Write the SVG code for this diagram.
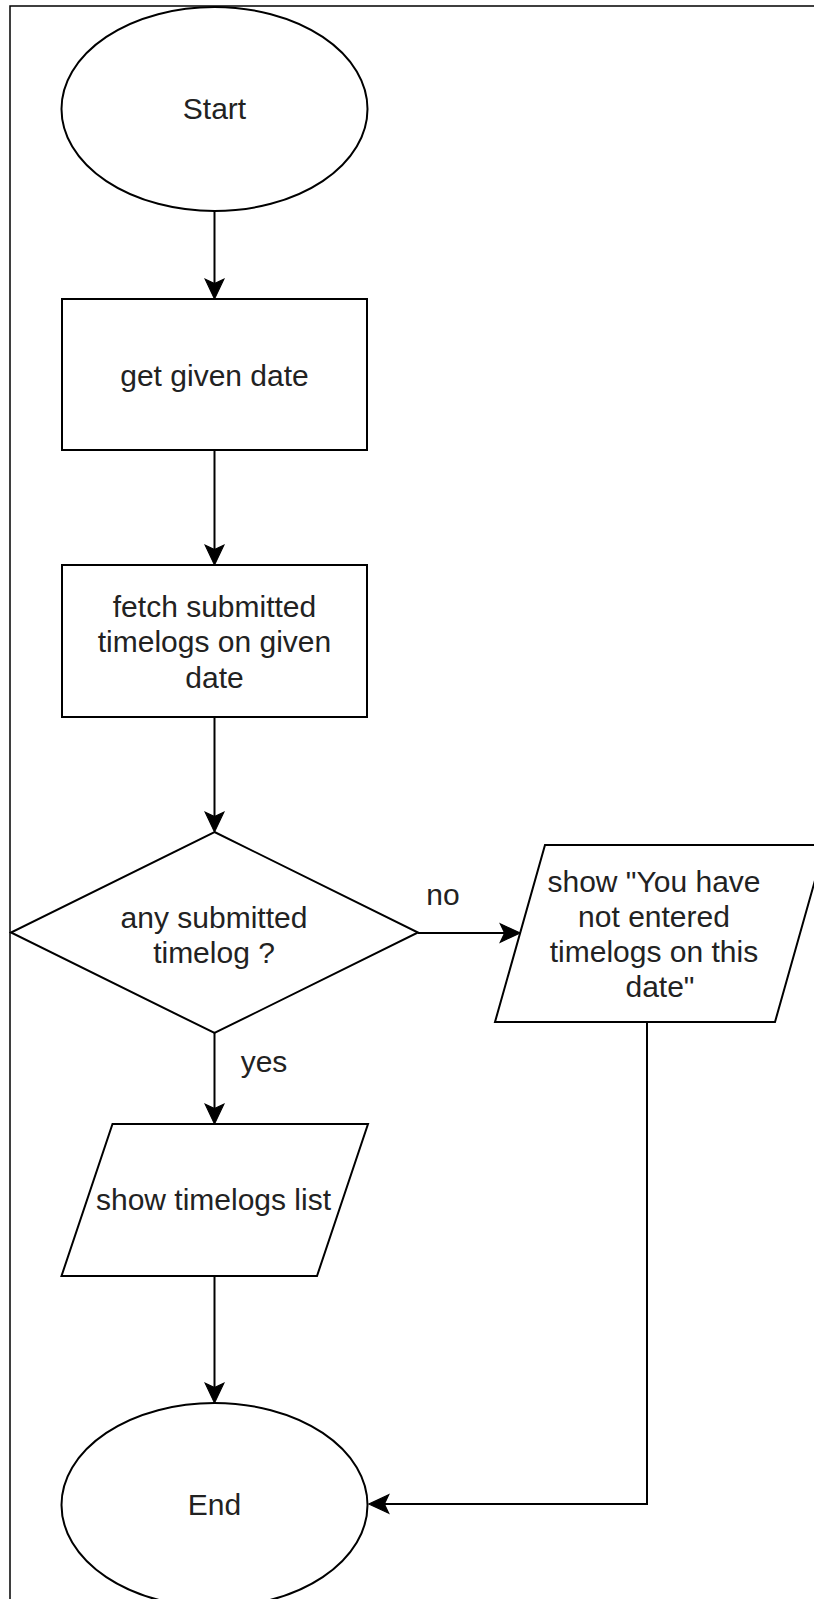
<svg xmlns="http://www.w3.org/2000/svg" width="814" height="1599" viewBox="0 0 814 1599">
<style>
.shape{fill:#fff;stroke:#000;stroke-width:2}
.edge{fill:none;stroke:#000;stroke-width:2}
.t{font-family:"Liberation Sans",Arial,sans-serif;font-size:30px;fill:#222;text-anchor:middle}
</style>
<defs>
<marker id="arr" markerUnits="userSpaceOnUse" markerWidth="22" markerHeight="22" viewBox="-1 -10 20 20" refX="8" refY="0" orient="auto">
<path d="M0,-8.5 L18,0 L0,8.5 L4,0 Z" fill="#000" stroke="#000" stroke-width="1" stroke-linejoin="miter"/>
</marker>
</defs>
<rect width="814" height="1599" fill="#fff"/>
<path d="M10 1599 V6 H814" fill="none" stroke="#000" stroke-width="1.5"/>
<g id="connectors">
<path class="edge" d="M214.5 211 V288" marker-end="url(#arr)"/>
<path class="edge" d="M214.5 450 V554" marker-end="url(#arr)"/>
<path class="edge" d="M214.5 717 V821" marker-end="url(#arr)"/>
<path class="edge" d="M418 933 H509" marker-end="url(#arr)"/>
<path class="edge" d="M214.5 1033 V1113" marker-end="url(#arr)"/>
<path class="edge" d="M214.5 1276 V1392" marker-end="url(#arr)"/>
<path class="edge" d="M647 1022 V1504 H380" marker-end="url(#arr)"/>
<text class="t" x="443" y="905">no</text>
<text class="t" x="264" y="1072">yes</text>
</g>
<g id="start">
<ellipse class="shape" cx="214.5" cy="109" rx="153" ry="102"/>
<text class="t" x="214.5" y="119">Start</text>
</g>
<g id="getDate">
<rect class="shape" x="62" y="299" width="305" height="151"/>
<text class="t" x="214.5" y="386">get given date</text>
</g>
<g id="fetch">
<rect class="shape" x="62" y="565" width="305" height="152"/>
<text class="t" x="214.5" y="617">fetch submitted</text>
<text class="t" x="214.5" y="652">timelogs on given</text>
<text class="t" x="214.5" y="688">date</text>
</g>
<g id="decision">
<polygon class="shape" points="214.5,832 418,932.5 214.5,1033 11,932.5"/>
<text class="t" x="214" y="928">any submitted</text>
<text class="t" x="214" y="963">timelog ?</text>
</g>
<g id="noEntries">
<polygon class="shape" points="545,845 825,845 775,1022 495,1022"/>
<text class="t" x="654" y="892">show "You have</text>
<text class="t" x="654" y="927">not entered</text>
<text class="t" x="654" y="962">timelogs on this</text>
<text class="t" x="660" y="997">date"</text>
</g>
<g id="showList">
<polygon class="shape" points="112.5,1124 368,1124 317,1276 61.5,1276"/>
<text class="t" x="213.5" y="1210">show timelogs list</text>
</g>
<g id="end">
<ellipse class="shape" cx="214.5" cy="1505" rx="153" ry="102"/>
<text class="t" x="214.5" y="1515">End</text>
</g>
</svg>
